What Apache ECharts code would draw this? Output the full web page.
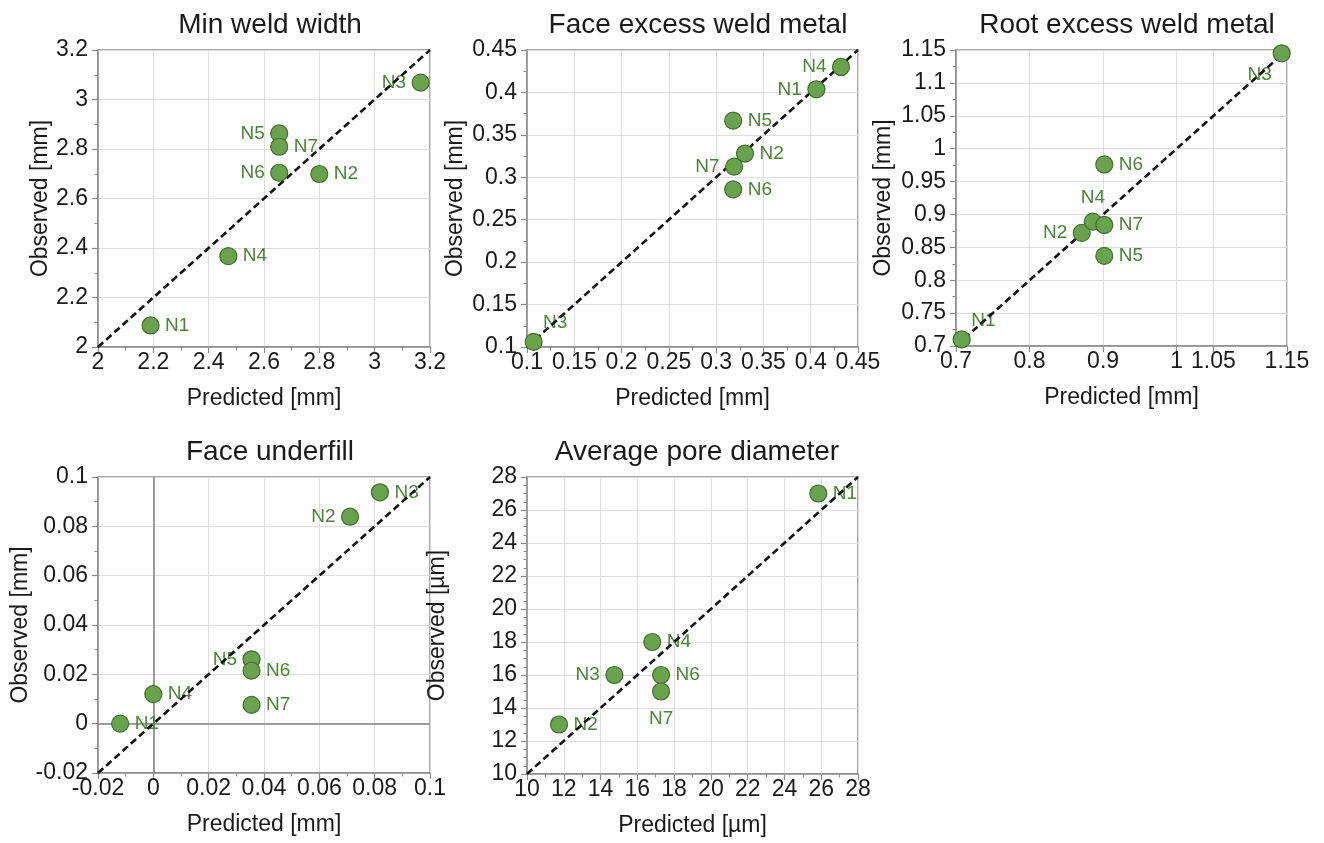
<!DOCTYPE html>
<html>
<head>
<meta charset="utf-8">
<script src="https://cdn.jsdelivr.net/npm/echarts@6/dist/echarts.min.js"></script>
<style>
html,body{margin:0;padding:0;background:#fff;}
#chart{width:1324px;height:843px;}
</style>
</head>
<body>
<div id="chart"></div>
<script>
// ---- Data ----
const names7 = ['N1','N2','N3','N4','N5','N6','N7'];

const minWeldPred = [2.19, 2.80, 3.166, 2.471, 2.655, 2.655, 2.655];
const minWeldObs  = [2.087, 2.699, 3.068, 2.367, 2.863, 2.704, 2.809];
const minWeldLabelPos = ['right','right','left','right','left','left','right'];

const faceExcessPred = [0.406, 0.3305, 0.107, 0.432, 0.318, 0.318, 0.319];
const faceExcessObs  = [0.4037, 0.328, 0.106, 0.430, 0.3667, 0.2858, 0.3125];
const faceExcessLabelPos = ['left','right','upright','left','right','right','left'];

const rootExcessPred = [0.7077, 0.871, 1.1428, 0.886, 0.9016, 0.9016, 0.9016];
const rootExcessObs  = [0.710, 0.872, 1.145, 0.889, 0.837, 0.976, 0.884];
const rootExcessLabelPos = ['upright','left','downleft','top','right','right','right'];
const rootExcessXTicks = [0.7, 0.8, 0.9, 1, 1.05, 1.15];

const underfillPred = [-0.012, 0.0711, 0.0819, 0.0, 0.0355, 0.0355, 0.0355];
const underfillObs  = [0.0, 0.0839, 0.0938, 0.012, 0.0261, 0.0215, 0.0076];
const underfillLabelPos = ['right','left','right','right','left','right','right'];

const poreNames = ['N1','N2','N3','N4','N6','N7'];
const porePred = [25.84, 11.74, 14.75, 16.81, 17.29, 17.29];
const poreObs  = [27, 13, 16, 18, 16, 15];
const poreLabelPos = ['right','right','left','right','right','bottom'];

// ---- Style ----
const FONT = "'Liberation Sans', Arial, sans-serif";
const AXIS_COLOR = '#8c8c8c';
const GRID_COLOR = '#dedede';
const TEXT_COLOR = '#1a1a1a';
const MARK_FILL = '#6aa34e';
const MARK_BORDER = '#3f6f2b';
const LABEL_COLOR = '#4a8537';

const panels = [
  {title:'Min weld width', names:names7, pred:minWeldPred, obs:minWeldObs, pos:minWeldLabelPos,
   min:2, max:3.2, interval:0.2, xName:'Predicted [mm]', yName:'Observed [mm]',
   left:98, top:50, width:332, height:297, yGap:44, yMinor:2, xMinor:2, titleX:270},
  {title:'Face excess weld metal', names:names7, pred:faceExcessPred, obs:faceExcessObs, pos:faceExcessLabelPos,
   min:0.1, max:0.45, interval:0.05, xName:'Predicted [mm]', yName:'Observed [mm]',
   left:527, top:50, width:331, height:297, yGap:60, yMinor:2, xMinor:2, titleX:698},
  {title:'Root excess weld metal', names:names7, pred:rootExcessPred, obs:rootExcessObs, pos:rootExcessLabelPos,
   min:0.7, max:1.15, interval:0.05, xName:'Predicted [mm]', yName:'Observed [mm]',
   left:956, top:50, width:331, height:296, yGap:61, yMinor:2, xMinor:0, titleX:1127, xCustom:rootExcessXTicks},
  {title:'Face underfill', names:names7, pred:underfillPred, obs:underfillObs, pos:underfillLabelPos,
   min:-0.02, max:0.1, interval:0.02, xName:'Predicted [mm]', yName:'Observed [mm]',
   left:98, top:477, width:332, height:296, yGap:64, yMinor:2, xMinor:2, titleX:270, zeroLines:true},
  {title:'Average pore diameter', names:poreNames, pred:porePred, obs:poreObs, pos:poreLabelPos,
   min:10, max:28, interval:2, xName:'Predicted [µm]', yName:'Observed [µm]',
   left:527, top:477, width:331, height:297, yGap:78, yMinor:4, xMinor:2, titleX:697}
];

function fmt(v){ return String(+(+v).toFixed(4)); }

function labelFor(p){
  switch(p){
    case 'upright': return {position:'right', offset:[-5,-19]};
    case 'downleft': return {position:'bottom', offset:[-22,-3]};
    case 'bottom': return {position:'bottom', offset:[0,3]};
    default: return {position:p};
  }
}

const option = {
  animation:false,
  backgroundColor:'#ffffff',
  textStyle:{fontFamily:FONT},
  title:[], grid:[], xAxis:[], yAxis:[], series:[]
};

panels.forEach((P,i)=>{
  option.title.push({
    text:P.title, left:P.titleX, top:P.top - 39, textAlign:'center', padding:0,
    textStyle:{fontFamily:FONT, fontSize:28, fontWeight:'normal', color:TEXT_COLOR}
  });
  option.grid.push({left:P.left, top:P.top, width:P.width, height:P.height,
    show:true, borderColor:AXIS_COLOR, borderWidth:1.5, backgroundColor:'transparent',
    containLabel:false, outerBoundsMode:'none'});
  const common = {
    gridIndex:i, type:'value', min:P.min, max:P.max, interval:P.interval,
    nameLocation:'middle',
    nameTextStyle:{fontFamily:FONT, fontSize:23, color:TEXT_COLOR},
    axisLine:{show:true, onZero:false, lineStyle:{color:AXIS_COLOR, width:1.5}},
    axisTick:{show:true, inside:false, length:6, lineStyle:{color:AXIS_COLOR, width:1.2}},
    splitLine:{show:true, lineStyle:{color:GRID_COLOR, width:1}},
    axisLabel:{fontFamily:FONT, fontSize:23, color:TEXT_COLOR, formatter:fmt, showMinLabel:true, showMaxLabel:true, hideOverlap:false}
  };
  const xAxis = Object.assign({}, common, {
    name:P.xName, nameGap:40,
    axisLabel:Object.assign({}, common.axisLabel, {margin:4}),
    minorTick:{show:P.xMinor>0, splitNumber:P.xMinor||2, length:3.5, lineStyle:{color:AXIS_COLOR, width:1}}
  });
  if (P.xCustom){
    xAxis.axisTick = Object.assign({}, common.axisTick, {customValues:P.xCustom});
    xAxis.axisLabel = Object.assign({}, xAxis.axisLabel, {customValues:P.xCustom});
  }
  const yAxis = Object.assign({}, common, {
    name:P.yName, nameGap:P.yGap, nameRotate:90,
    axisLabel:Object.assign({}, common.axisLabel, {margin:10}),
    minorTick:{show:true, splitNumber:P.yMinor, length:3.5, lineStyle:{color:AXIS_COLOR, width:1}}
  });
  option.xAxis.push(xAxis);
  option.yAxis.push(yAxis);

  const pts = P.pred.map((x,k)=>[x, P.obs[k]]);

  // labels (under dashed line)
  option.series.push({
    type:'scatter', xAxisIndex:i, yAxisIndex:i, z:2, silent:true,
    symbolSize:17, itemStyle:{color:'rgba(0,0,0,0)', borderWidth:0, opacity:1},
    data: pts.map((v,k)=>({value:v, name:P.names[k],
      label:Object.assign({show:true, formatter:P.names[k], color:LABEL_COLOR, opacity:1,
        fontFamily:FONT, fontSize:19, distance:6}, labelFor(P.pos[k]))}))
  });
  // identity line
  const lineSeries = {
    type:'line', xAxisIndex:i, yAxisIndex:i, z:3, silent:true, symbol:'none',
    data:[[P.min,P.min],[P.max,P.max]],
    lineStyle:{color:'#111', width:2.6, type:[7,4]}
  };
  if (P.zeroLines){
    lineSeries.markLine = {
      silent:true, symbol:'none', label:{show:false}, z:1,
      lineStyle:{color:'#808080', width:1.5, type:'solid'},
      data:[{xAxis:0},{yAxis:0}]
    };
  }
  option.series.push(lineSeries);
  // markers
  option.series.push({
    type:'scatter', xAxisIndex:i, yAxisIndex:i, z:4, silent:true, clip:true,
    symbolSize:17,
    itemStyle:{color:MARK_FILL, borderColor:MARK_BORDER, borderWidth:1.2, opacity:1},
    label:{show:false},
    data:pts
  });
});

const chart = echarts.init(document.getElementById('chart'), null, {renderer:'canvas'});
chart.setOption(option);
</script>
</body>
</html>
